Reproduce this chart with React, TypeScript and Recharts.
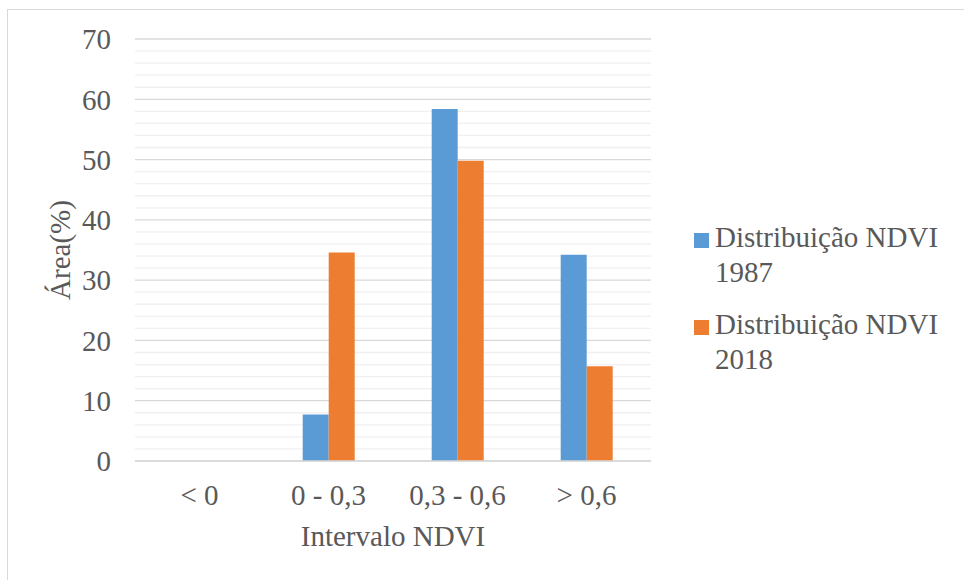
import { BarChart, Bar, XAxis, YAxis, CartesianGrid, Legend } from "recharts";

const categories = ["< 0", "0 - 0,3", "0,3 - 0,6", "> 0,6"];
const ndvi1987 = [0, 7.7, 58.4, 34.2];
const ndvi2018 = [0, 34.6, 49.8, 15.7];
const yTicks = [0, 10, 20, 30, 40, 50, 60, 70];
const minorTicks = [2, 4, 6, 8, 12, 14, 16, 18, 22, 24, 26, 28, 32, 34, 36, 38, 42, 44, 46, 48, 52, 54, 56, 58, 62, 64, 66, 68];

const data = categories.map((name, i) => ({
  name,
  d1987: ndvi1987[i],
  d2018: ndvi2018[i],
}));

const font = "'Liberation Serif', 'Times New Roman', serif";
const textColor = "#595959";

function renderLegend(props: any) {
  const { payload } = props;
  return (
    <div style={{ fontFamily: font, fontSize: 29, color: textColor, lineHeight: "35px" }}>
      {payload.map((entry: any, i: number) => (
        <div key={i} style={{ display: "flex", alignItems: "flex-start", marginBottom: 17 }}>
          <div style={{ width: 15, height: 15, background: entry.color, marginTop: 13, marginRight: 6, flexShrink: 0 }} />
          <div style={{ width: 240 }}>{entry.value}</div>
        </div>
      ))}
    </div>
  );
}

function YLabel({ viewBox }: any) {
  const x = viewBox.x + 15;
  const y = viewBox.y + viewBox.height / 2;
  return (
    <text
      x={x}
      y={y}
      transform={`rotate(-90, ${x}, ${y})`}
      textAnchor="middle"
      fill={textColor}
      style={{ fontFamily: font, fontSize: 29 }}
    >
      Área(%)
    </text>
  );
}

export default function App() {
  return (
    <div style={{ position: "absolute", left: 0, top: 0, width: 964, height: 580, overflow: "hidden", background: "#fff" }}>
      <div style={{ position: "absolute", left: 7, top: 9, width: 1000, height: 620, border: "1px solid #d9d9d9" }} />
      <div style={{ position: "absolute", left: 0, top: 0 }}>
        <BarChart
          width={964}
          height={580}
          data={data}
          margin={{ top: 39, right: 313, left: 55, bottom: 0 }}
          barCategoryGap="30%"
          barGap={0}
        >
          <CartesianGrid vertical={false} horizontalValues={minorTicks} stroke="#f0f0f0" strokeWidth={1.3} />
          <CartesianGrid vertical={false} stroke="#d9d9d9" strokeWidth={1.3} />
          <XAxis
            dataKey="name"
            stroke="#d9d9d9"
            strokeWidth={1.3}
            tickLine={false}
            tickMargin={17}
            height={119}
            tick={{ fill: textColor, fontFamily: font, fontSize: 29 }}
            label={{
              value: "Intervalo NDVI",
              position: "insideBottom",
              offset: 34,
              fill: textColor,
              style: { fontFamily: font, fontSize: 29 },
            }}
          />
          <YAxis
            width={80}
            domain={[0, 70]}
            ticks={yTicks}
            interval={0}
            axisLine={false}
            tickLine={false}
            tickMargin={18}
            tick={{ fill: textColor, fontFamily: font, fontSize: 29 }}
            label={<YLabel />}
          />
          <Legend
            layout="vertical"
            align="center"
            verticalAlign="middle"
            content={renderLegend}
            wrapperStyle={{ position: "absolute", left: 694, top: 220, width: 270 }}
          />
          <Bar dataKey="d1987" name="Distribuição NDVI 1987" fill="#5b9bd5" isAnimationActive={false} />
          <Bar dataKey="d2018" name="Distribuição NDVI 2018" fill="#ed7d31" isAnimationActive={false} />
        </BarChart>
      </div>
    </div>
  );
}
